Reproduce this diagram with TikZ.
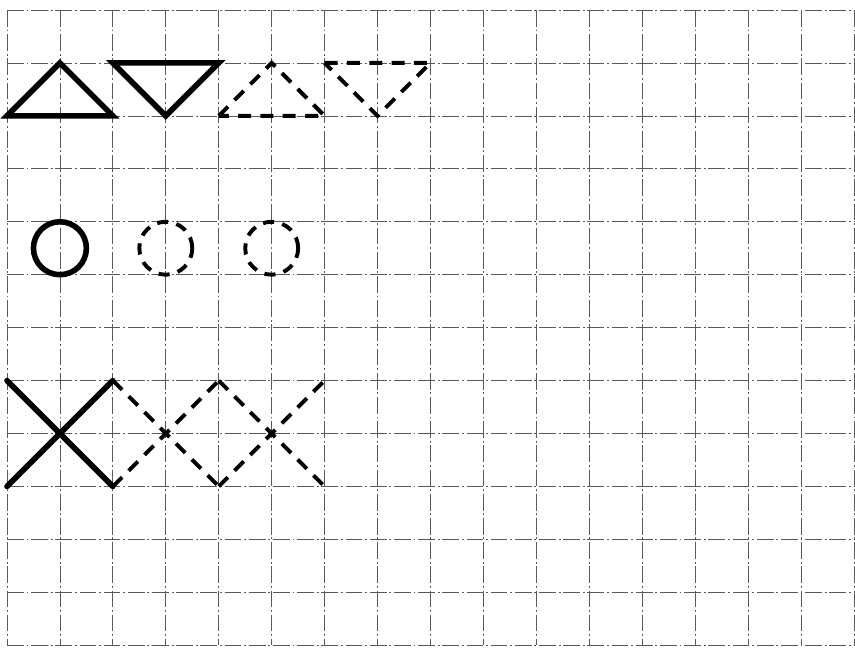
\documentclass[tikz,border=0pt]{standalone}
\begin{document}
\begin{tikzpicture}[
  gridline/.style={black!65, line width=0.4pt, dash pattern=on 9pt off 1.5pt on 1pt off 1.5pt},
  solidshape/.style={black, line width=3pt, line join=miter, line cap=round},
  dashshape/.style={black, line width=2.1pt, dash pattern=on 7pt off 5pt, line join=miter}
]
\useasboundingbox (-0.132,0.189) rectangle (16.019,-12.057);
% grid
\foreach \i in {0,...,16} \draw[gridline] (\i,0) -- (\i,-12);
\foreach \j in {0,...,12} \draw[gridline] (0,-\j) -- (16,-\j);
% row 1: triangles
\draw[solidshape] (0,-2) -- (1,-1) -- (2,-2) -- cycle;
\draw[solidshape] (2,-1) -- (4,-1) -- (3,-2) -- cycle;
\draw[dashshape] (4,-2) -- (5,-1) -- (6,-2) -- cycle;
\draw[dashshape] (6,-1) -- (8,-1) -- (7,-2) -- cycle;
% row 2: circles
\draw[solidshape] (1,-4.5) circle (0.5);
\draw[dashshape, dash pattern=on 6pt off 4.5pt] (3,-4.5) circle (0.5);
\draw[dashshape, dash pattern=on 6pt off 4.5pt] (5,-4.5) circle (0.5);
% row 3: crosses
\draw[solidshape] (0,-7) -- (2,-9);
\draw[solidshape] (0,-9) -- (2,-7);
\draw[dashshape] (2,-7) -- (4,-9);
\draw[dashshape] (2,-9) -- (4,-7);
\draw[dashshape] (4,-7) -- (6,-9);
\draw[dashshape] (4,-9) -- (6,-7);
\end{tikzpicture}
\end{document}
